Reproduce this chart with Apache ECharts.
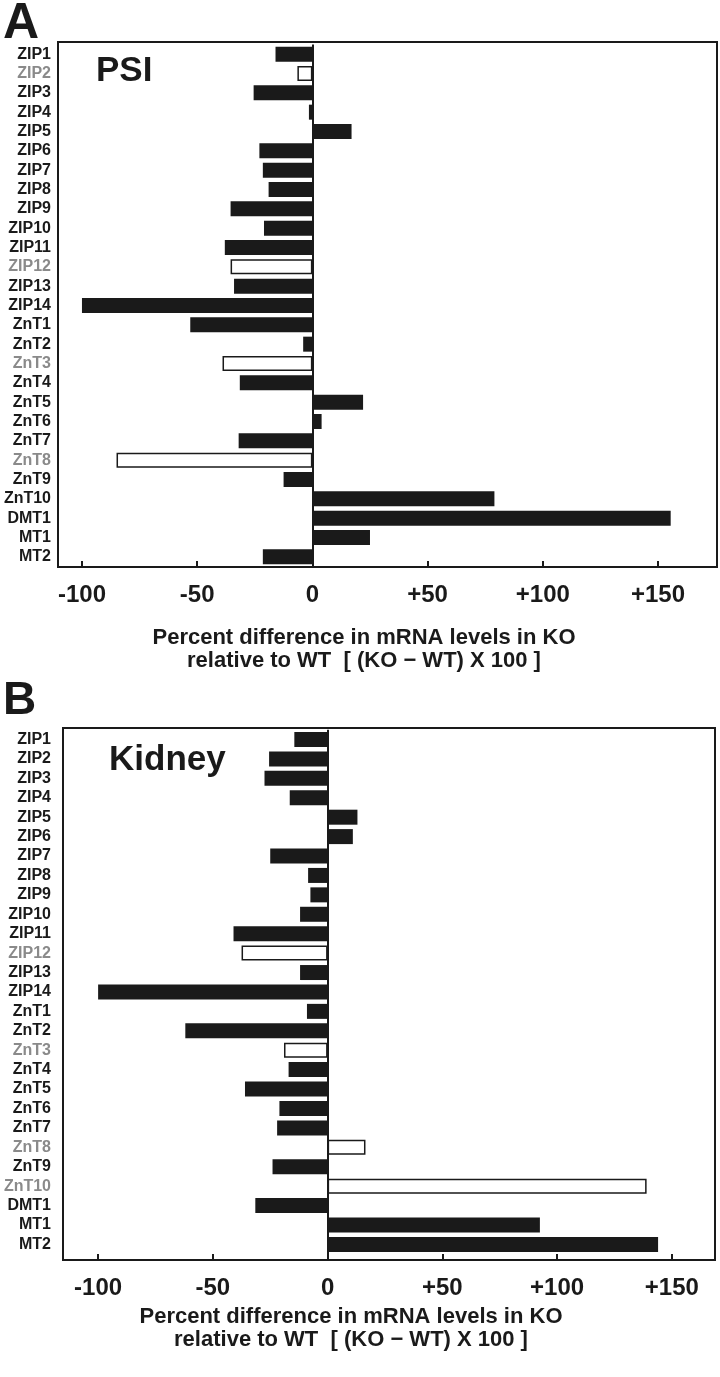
<!DOCTYPE html>
<html>
<head>
<meta charset="utf-8">
<script src="https://cdn.jsdelivr.net/npm/echarts@6/dist/echarts.min.js"></script>
<style>html,body{margin:0;padding:0;background:#fff}#c{width:720px;height:1377px}</style>
</head>
<body>
<div id="c"></div>
<script>
const categories = ['ZIP1','ZIP2','ZIP3','ZIP4','ZIP5','ZIP6','ZIP7','ZIP8','ZIP9','ZIP10','ZIP11','ZIP12','ZIP13','ZIP14','ZnT1','ZnT2','ZnT3','ZnT4','ZnT5','ZnT6','ZnT7','ZnT8','ZnT9','ZnT10','DMT1','MT1','MT2'];
const psiValues = [-16,-6.5,-25.5,-1.5,17,-23,-21.5,-19,-35.5,-21,-38,-35.5,-34,-100,-53,-4,-39,-31.5,22,4,-32,-85,-12.5,79,155.5,25,-21.5];
const psiOpen = ['ZIP2','ZIP12','ZnT3','ZnT8'];
const kidneyValues = [-14.5,-25.5,-27.5,-16.5,13,11,-25,-8.5,-7.5,-12,-41,-37.5,-12,-100,-9,-62,-19,-17,-36,-21,-22,16.5,-24,139,-31.5,92.5,144];
const kidneyOpen = ['ZIP12','ZnT3','ZnT8','ZnT10'];
const tickValues = [-100,-50,0,50,100,150];
const axisTitle = 'Percent difference in mRNA levels in KO\nrelative to WT  [ (KO \u2212 WT) X 100 ]';

const FONT = '"Liberation Sans", Arial, sans-serif';
const DARK = '#1a1a1a';
const GRAY = '#8a8a8a';

function barData(vals, open) {
  return vals.map((v, i) => open.includes(categories[i])
    ? {value: v, itemStyle: {color: '#fff', borderColor: DARK, borderWidth: 1.5}}
    : {value: v, itemStyle: {color: DARK}});
}

const panels = [
  {values: psiValues, open: psiOpen, frame: {left: 58, right: 3, top: 42, height: 525},
   data: {top: 44.5, height: 522}, min: -110.4, max: 175.6, offset: 0.5, labelMargin: 7},
  {values: kidneyValues, open: kidneyOpen, frame: {left: 63, right: 5, top: 728, height: 532},
   data: {top: 729.8, height: 524.3}, min: -115.3, max: 168.8, offset: 6, labelMargin: 12}
];

const grid = [], xAxis = [], yAxis = [], series = [];
panels.forEach((p, k) => {
  const gData = grid.length;
  grid.push({left: p.frame.left, right: p.frame.right, top: p.data.top, height: p.data.height, containLabel: false});
  const gFrame = grid.length;
  grid.push({left: p.frame.left, right: p.frame.right, top: p.frame.top, height: p.frame.height,
    show: true, borderColor: DARK, borderWidth: 2, backgroundColor: 'transparent', containLabel: false});
  xAxis.push({
    gridIndex: gData, type: 'value', min: p.min, max: p.max, position: 'bottom', offset: p.offset,
    axisLine: {show: false},
    axisTick: {show: true, inside: true, length: 6, lineStyle: {color: DARK, width: 2}, customValues: tickValues},
    axisLabel: {show: true, customValues: tickValues, margin: 16,
      formatter: v => (v > 0 ? '+' + v : String(v)),
      fontFamily: FONT, fontWeight: 'bold', fontSize: 24, color: DARK},
    splitLine: {show: false}
  });
  yAxis.push({
    gridIndex: gData, type: 'category', data: categories, inverse: true,
    axisLine: {show: false}, axisTick: {show: false}, splitLine: {show: false},
    axisLabel: {interval: 0, margin: p.labelMargin, fontFamily: FONT, fontWeight: 'bold', fontSize: 16,
      color: (val) => p.open.includes(val) ? GRAY : DARK}
  });
  xAxis.push({gridIndex: gFrame, type: 'value', show: false, min: 0, max: 1});
  yAxis.push({gridIndex: gFrame, type: 'value', show: false, min: 0, max: 1});
  series.push({
    type: 'bar', xAxisIndex: 2 * k, yAxisIndex: 2 * k, data: barData(p.values, p.open),
    barWidth: 15, animation: false,
    markLine: {silent: true, symbol: 'none', label: {show: false},
      lineStyle: {color: DARK, width: 2, type: 'solid'}, data: [{xAxis: 0}]}
  });
});

const chart = echarts.init(document.getElementById('c'), null, {renderer: 'canvas'});
chart.setOption({
  animation: false,
  backgroundColor: '#fff',
  grid, xAxis, yAxis, series,
  graphic: [
    {type: 'text', x: 3, y: -1, style: {text: 'A', font: 'bold 50px ' + FONT, fill: DARK}},
    {type: 'text', x: 3, y: 678, style: {text: 'B', font: 'bold 46px ' + FONT, fill: DARK}},
    {type: 'text', x: 96, y: 54, style: {text: 'PSI', font: 'bold 35px ' + FONT, fill: DARK}},
    {type: 'text', x: 109, y: 743, style: {text: 'Kidney', font: 'bold 35px ' + FONT, fill: DARK}},
    {type: 'text', x: 364, y: 626, style: {text: axisTitle, font: 'bold 22px ' + FONT, fill: DARK,
      textAlign: 'center', lineHeight: 23}},
    {type: 'text', x: 351, y: 1305, style: {text: axisTitle, font: 'bold 22px ' + FONT, fill: DARK,
      textAlign: 'center', lineHeight: 23}}
  ]
});
</script>
</body>
</html>
